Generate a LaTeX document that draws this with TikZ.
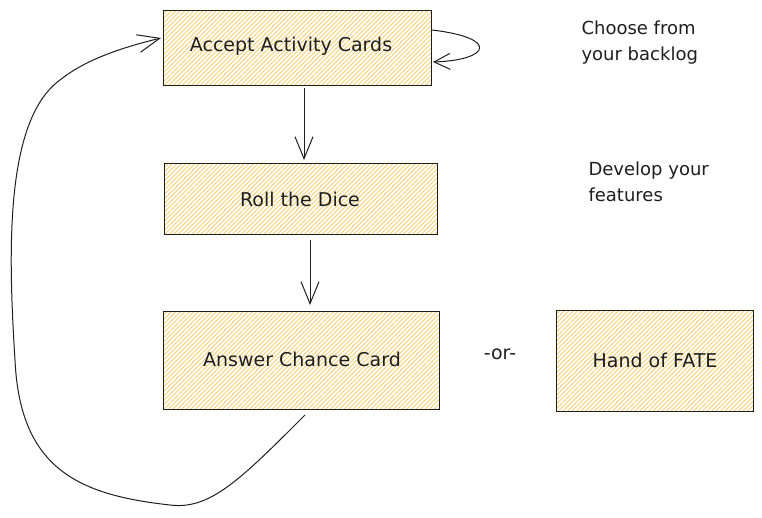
\documentclass[tikz,border=0pt]{standalone}
\usepackage{fontspec}
\setmainfont{DejaVu Sans}
\usetikzlibrary{arrows.meta}
\definecolor{hatch}{RGB}{250,200,90}
\definecolor{ink}{RGB}{30,30,30}
\newcommand{\hatchbox}[5]{%
  \begin{scope}
    \clip (#1,#2) rectangle (#3,#4);
    \pgfmathsetmacro{\hh}{#4-#2}
    \foreach \d in {0,4.5,...,420} {
      \draw[hatch, line width=0.7pt] (#1+\d-\hh,#4) -- (#1+\d,#2);
    }
  \end{scope}
  \node[card, minimum width={#3-#1}, minimum height={#4-#2}, anchor=north west] (#5) at (#1,#2) {};
}
\tikzset{
  card/.style={draw=ink, line width=1.3pt, rectangle, inner sep=0pt},
  lbl/.style={font=\fontsize{19}{22}\selectfont, text=ink},
  note/.style={font=\fontsize{18}{26}\selectfont, text=ink, align=left, anchor=north west},
  conn/.style={draw=ink, line width=1pt, -{Straight Barb[length=22pt,width=18pt,line width=1pt]}},
}
\begin{document}
\begin{tikzpicture}[x=1pt,y=-1pt]
\useasboundingbox (0,0) rectangle (762,517);
% boxes
\hatchbox{163}{10}{431}{85}{acceptbox}
\node[lbl] (accept) at (291,46) {Accept Activity Cards};
\hatchbox{164}{163}{437}{234}{rollbox}
\node[lbl] (roll) at (300,199) {Roll the Dice};
\hatchbox{163}{311}{439}{409}{answerbox}
\node[lbl] (answer) at (302,359) {Answer Chance Card};
\hatchbox{556}{310}{753}{411}{fatebox}
\node[lbl] (fate) at (655,360) {Hand of FATE};
\node[lbl] (or) at (500,354) {-or-};
% notes
\node[note] (n1) at (578,17) {Choose from\\your backlog};
\node[note] (n2) at (585,158) {Develop your\\features};
% connectors
\coordinate (a1s) at (304,88);
\coordinate (a1e) at (304,160);
\draw[conn] (a1s) -- (a1e);
\coordinate (a2s) at (310,240);
\coordinate (a2e) at (310,305);
\draw[conn] (a2s) -- (a2e);
\coordinate (ls) at (432,30);
\coordinate (le) at (433,62);
\draw[conn, -{Straight Barb[length=16pt,width=16pt,line width=1pt]}] (ls) .. controls (500,38) and (490,60) .. (le);
\coordinate (bs) at (305,415);
\coordinate (be) at (161,38);
\draw[conn] (bs) .. controls (240,480) and (210,510) .. (170,505)
  .. controls (80,495) and (20,470) .. (15,360)
  .. controls (8,250) and (5,120) .. (60,80)
  .. controls (85,60) and (120,48) .. (be);
\end{tikzpicture}
\end{document}
